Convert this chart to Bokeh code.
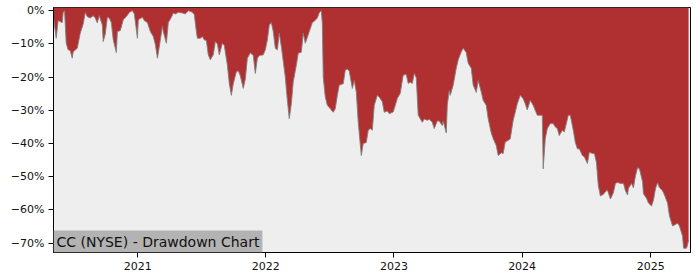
from datetime import datetime, timezone
import numpy as np
from bokeh.plotting import figure
from bokeh.models import Range1d, FixedTicker, CustomJSTickFormatter, Label, ColumnDataSource
from bokeh.embed import file_html
from bokeh.resources import INLINE

# Dates as decimal years, drawdown in percent
years = [
    2020.346, 2020.366, 2020.381, 2020.413, 2020.420, 2020.431, 2020.444, 2020.459, 2020.475, 2020.491,
    2020.498, 2020.530, 2020.553, 2020.576, 2020.592, 2020.608, 2020.631, 2020.654, 2020.670, 2020.686,
    2020.701, 2020.725, 2020.732, 2020.748, 2020.764, 2020.779, 2020.795, 2020.810, 2020.834, 2020.842,
    2020.865, 2020.888, 2020.920, 2020.935, 2020.959, 2020.974, 2020.998, 2021.005, 2021.037, 2021.052,
    2021.076, 2021.099, 2021.122, 2021.138, 2021.154, 2021.169, 2021.193, 2021.200, 2021.224, 2021.239,
    2021.263, 2021.278, 2021.294, 2021.317, 2021.349, 2021.372, 2021.395, 2021.427, 2021.442, 2021.458,
    2021.466, 2021.489, 2021.505, 2021.520, 2021.536, 2021.551, 2021.567, 2021.590, 2021.606, 2021.622,
    2021.637, 2021.661, 2021.676, 2021.700, 2021.715, 2021.731, 2021.746, 2021.770, 2021.785, 2021.801,
    2021.824, 2021.840, 2021.856, 2021.879, 2021.902, 2021.918, 2021.934, 2021.949, 2021.980, 2021.996,
    2022.012, 2022.027, 2022.043, 2022.058, 2022.074, 2022.090, 2022.105, 2022.121, 2022.136, 2022.152,
    2022.168, 2022.183, 2022.199, 2022.214, 2022.238, 2022.253, 2022.277, 2022.292, 2022.308, 2022.324,
    2022.339, 2022.363, 2022.378, 2022.402, 2022.417, 2022.433, 2022.441, 2022.448, 2022.464, 2022.480,
    2022.503, 2022.526, 2022.542, 2022.558, 2022.573, 2022.604, 2022.620, 2022.636, 2022.651, 2022.675,
    2022.690, 2022.706, 2022.721, 2022.745, 2022.760, 2022.784, 2022.799, 2022.815, 2022.831, 2022.846,
    2022.870, 2022.885, 2022.909, 2022.924, 2022.948, 2022.963, 2022.994, 2023.010, 2023.026, 2023.049,
    2023.072, 2023.096, 2023.111, 2023.127, 2023.143, 2023.158, 2023.174, 2023.189, 2023.221, 2023.236,
    2023.260, 2023.275, 2023.299, 2023.314, 2023.338, 2023.353, 2023.377, 2023.384, 2023.408, 2023.416,
    2023.431, 2023.439, 2023.462, 2023.486, 2023.501, 2023.525, 2023.540, 2023.564, 2023.579, 2023.603,
    2023.618, 2023.642, 2023.657, 2023.681, 2023.696, 2023.720, 2023.735, 2023.759, 2023.775, 2023.798,
    2023.813, 2023.837, 2023.852, 2023.868, 2023.884, 2023.907, 2023.930, 2023.946, 2023.962, 2023.985,
    2024.008, 2024.024, 2024.040, 2024.055, 2024.063, 2024.086, 2024.118, 2024.133, 2024.157, 2024.164,
    2024.180, 2024.196, 2024.219, 2024.242, 2024.258, 2024.274, 2024.289, 2024.313, 2024.328, 2024.344,
    2024.359, 2024.375, 2024.398, 2024.414, 2024.430, 2024.445, 2024.469, 2024.484, 2024.508, 2024.523,
    2024.547, 2024.562, 2024.578, 2024.593, 2024.609, 2024.632, 2024.648, 2024.664, 2024.687, 2024.710,
    2024.726, 2024.742, 2024.765, 2024.789, 2024.804, 2024.820, 2024.827, 2024.851, 2024.866, 2024.882,
    2024.898, 2024.913, 2024.937, 2024.944, 2024.968, 2024.983, 2025.007, 2025.022, 2025.038, 2025.054,
    2025.069, 2025.093, 2025.108, 2025.132, 2025.147, 2025.171, 2025.186, 2025.210, 2025.225, 2025.249,
    2025.257, 2025.280, 2025.288, 2025.296,
]
drawdown = [
    -2.5, -8.3, -3.0, -3.6, -0.6, 0.0, -9.8, -11.8, -12.0, -14.3,
    -12.4, -11.3, -6.8, -4.0, -0.6, -1.8, -2.2, -1.5, -2.2, -3.7,
    -1.5, -4.3, -9.3, -7.0, -2.0, -2.2, -3.6, -8.8, -12.6, -6.3,
    -6.0, -2.7, -1.4, -0.5, 0.0, -1.0, -8.3, -2.7, -2.0, -3.0,
    -3.6, -6.3, -7.8, -10.2, -14.3, -10.8, -4.7, -6.3, -9.8, -3.6,
    -2.0, -0.7, -1.0, -0.5, -0.7, -1.0, 0.0, -0.5, -1.2, -6.3,
    -8.3, -8.3, -7.8, -8.8, -9.0, -13.3, -14.8, -13.3, -9.3, -10.0,
    -13.3, -9.8, -10.5, -16.4, -22.0, -25.5, -22.0, -18.4, -18.1, -19.6,
    -23.4, -20.6, -14.3, -12.7, -13.5, -18.9, -14.3, -13.5, -13.3, -11.8,
    -8.8, -4.3, -3.6, -6.3, -11.3, -11.8, -6.8, -10.8, -15.3, -20.0,
    -27.0, -32.5, -28.0, -21.4, -16.4, -12.8, -12.5, -6.8, -9.8, -8.0,
    -6.3, -3.6, -3.2, -2.2, -0.6, 0.0, -4.0, -20.0, -26.0, -28.5,
    -29.5, -30.6, -29.5, -25.5, -22.4, -22.0, -17.9, -17.6, -18.2, -23.4,
    -21.0, -24.5, -33.6, -43.6, -40.0, -39.7, -36.0, -35.5, -36.0, -28.5,
    -25.5, -26.0, -27.4, -30.6, -30.2, -31.0, -30.5, -28.5, -26.4, -24.9,
    -19.4, -19.2, -21.9, -21.5, -21.9, -18.9, -20.2, -31.5, -33.6, -32.6,
    -33.0, -32.7, -33.6, -35.5, -33.2, -33.2, -34.6, -33.2, -36.8, -28.5,
    -24.0, -25.5, -22.4, -17.3, -14.8, -12.4, -11.3, -12.6, -15.8, -17.3,
    -22.4, -24.6, -21.0, -24.5, -27.0, -28.5, -32.5, -36.8, -38.6, -40.6,
    -43.6, -42.8, -43.0, -39.5, -39.2, -38.6, -33.0, -30.6, -28.0, -25.5,
    -26.5, -28.0, -29.9, -28.0, -27.0, -28.5, -31.5, -31.5, -31.5, -47.6,
    -38.5, -35.5, -34.0, -34.0, -35.0, -35.5, -37.6, -36.0, -36.5, -34.0,
    -31.5, -31.5, -36.0, -39.7, -41.6, -41.6, -43.6, -44.0, -46.0, -42.6,
    -43.0, -43.0, -45.7, -52.7, -55.8, -55.3, -54.5, -54.0, -56.7, -54.8,
    -52.0, -51.7, -52.0, -52.0, -54.2, -55.5, -53.5, -52.0, -53.3, -49.7,
    -47.3, -47.6, -51.5, -55.1, -56.5, -57.9, -58.8, -57.0, -53.5, -51.8,
    -53.3, -54.2, -55.5, -57.9, -61.8, -64.8, -64.5, -64.0, -64.8, -67.9,
    -71.5, -71.5, -70.5, -69.0,
]
year_ticks = [2021, 2022, 2023, 2024, 2025]
pct_ticks = [0, -10, -20, -30, -40, -50, -60, -70]
title_text = "CC (NYSE) - Drawdown Chart"


def to_ms(y):
    yr = int(np.floor(y))
    a = datetime(yr, 1, 1, tzinfo=timezone.utc)
    b = datetime(yr + 1, 1, 1, tzinfo=timezone.utc)
    d = a + (b - a) * (y - yr)
    return d.timestamp() * 1000.0


xs = [to_ms(y) for y in years]
src = ColumnDataSource(dict(x=xs, dd=drawdown, top=[5.0] * len(xs)))

x_start = to_ms(2020.345)
x_end = to_ms(2025.311)

p = figure(width=700, height=280, output_backend="svg", toolbar_location=None,
           x_axis_type="datetime",
           x_range=Range1d(x_start, x_end), y_range=Range1d(-72.8, 0.95))
p.min_border_left = 53
p.min_border_right = 10
p.min_border_top = 7
p.min_border_bottom = 28
p.background_fill_color = "#eeeeee"
p.border_fill_color = "white"
p.outline_line_color = "black"
p.outline_line_width = 1
p.outline_line_alpha = 1
p.grid.visible = False

p.varea(x="x", y1="dd", y2="top", source=src, fill_color="#b03031")
p.line(x="x", y="dd", source=src, line_color="#808080", line_width=1, line_alpha=0.9)

p.xaxis.ticker = FixedTicker(ticks=[to_ms(float(y)) for y in year_ticks])
p.xaxis.formatter = CustomJSTickFormatter(code="return String(new Date(tick).getUTCFullYear());")
p.yaxis.ticker = FixedTicker(ticks=pct_ticks)
p.yaxis.formatter = CustomJSTickFormatter(
    code="return (tick < 0 ? '\u2212' : '') + Math.abs(tick).toFixed(0) + '%';")

for ax in (p.xaxis[0], p.yaxis[0]):
    ax.axis_line_color = "black"
    ax.major_tick_line_color = "black"
    ax.major_tick_out = 5
    ax.major_tick_in = 0
    ax.minor_tick_line_color = None
    ax.major_label_text_font = "DejaVu Sans"
    ax.major_label_text_font_size = "11px"
    ax.major_label_text_color = "#111111"
    ax.major_label_standoff = 4

lab = Label(x=x_start, y=-72.8, x_units="data", y_units="data", text=title_text,
            anchor="bottom_left", text_font="DejaVu Sans", text_font_size="14px",
            text_color="#111111", background_fill_color="#b3b3b3", padding=3)
p.add_layout(lab)

open("out.html", "w").write(file_html(p, INLINE))
